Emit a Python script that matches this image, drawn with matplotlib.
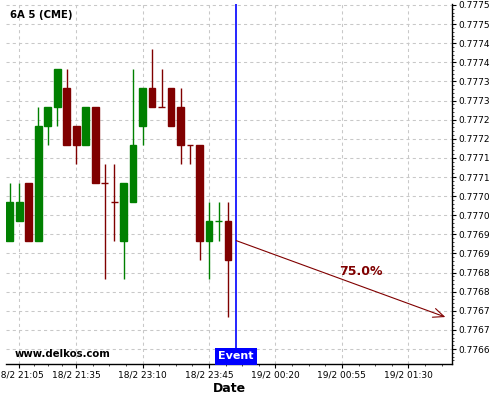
import matplotlib
matplotlib.use('Agg')
import matplotlib.pyplot as plt
import matplotlib.transforms as mtransforms
import numpy as np

# candle data (5 min bars, index based x axis)
opens = [0.77690, 0.77695, 0.77705, 0.77690, 0.77720, 0.77725, 0.77730, 0.77720,
         0.77715, 0.77725, 0.77705, 0.77700, 0.77690, 0.77700, 0.77720, 0.77730,
         0.77725, 0.77730, 0.77725, 0.77715, 0.77715, 0.77690, 0.77695, 0.77695]
highs = [0.77705, 0.77705, 0.77705, 0.77725, 0.77725, 0.77735, 0.77735, 0.77720,
         0.77725, 0.77725, 0.77710, 0.77710, 0.77705, 0.77735, 0.77730, 0.77740,
         0.77735, 0.77730, 0.77730, 0.77715, 0.77715, 0.77700, 0.77700, 0.77700]
lows = [0.77690, 0.77695, 0.77690, 0.77690, 0.77715, 0.77720, 0.77715, 0.77710,
        0.77715, 0.77705, 0.77680, 0.77690, 0.77680, 0.77700, 0.77715, 0.77725,
        0.77725, 0.77720, 0.77710, 0.77710, 0.77685, 0.77680, 0.77690, 0.77670]
closes = [0.77700, 0.77700, 0.77690, 0.77720, 0.77725, 0.77735, 0.77715, 0.77715,
          0.77725, 0.77705, 0.77705, 0.77700, 0.77705, 0.77715, 0.77730, 0.77725,
          0.77725, 0.77720, 0.77715, 0.77715, 0.77690, 0.77695, 0.77695, 0.77685]
bullish = [1, 1, 0, 1, 1, 1, 0, 0, 1, 0, 0, 0, 1, 1, 1, 0, 0, 0, 0, 0, 0, 1, 1, 0]

tick_pos = [1, 7, 14, 21, 28, 35, 42]
tick_labels = ['18/2 21:05', '18/2 21:35', '18/2 23:10', '18/2 23:45',
               '19/2 00:20', '19/2 00:55', '19/2 01:30']

event_x = 23.86
arrow_start = (23.86, 0.77690)
arrow_end = (45.9, 0.77670)
prob_label = '75.0%'
prob_pos = (36.96, 0.77682)

green = '#008000'
red = '#800000'

fig = plt.figure(figsize=(5, 4), dpi=100)
ax = fig.add_axes([6 / 500, 36 / 400, 446 / 500, 360 / 400])

x = np.arange(len(opens))
cols = [green if b else red for b in bullish]
bottoms = [min(o, c) for o, c in zip(opens, closes)]
heights = [abs(c - o) for o, c in zip(opens, closes)]

ax.vlines(x, lows, highs, colors=cols, linewidth=1.0, zorder=2)
ax.bar(x, heights, bottom=bottoms, width=0.7, color=cols, edgecolor=cols,
       linewidth=1.0, zorder=3)

# event line + label
ax.axvline(event_x, color='#0000ff', linewidth=1.2, zorder=4)
trans = mtransforms.blended_transform_factory(ax.transData, ax.transAxes)
ax.text(event_x, 0.021, 'Event', transform=trans, ha='center', va='center',
        color='white', fontsize=8, fontweight='bold', zorder=6,
        bbox=dict(boxstyle='square,pad=0.3', facecolor='#0000ff', edgecolor='none'))

# forecast arrow
ax.annotate('', xy=arrow_end, xytext=arrow_start,
            arrowprops=dict(arrowstyle='->,head_length=0.7,head_width=0.3',
                            color=red, linewidth=0.8, shrinkA=0, shrinkB=0,
                            mutation_scale=11), zorder=5)
ax.text(prob_pos[0], prob_pos[1], prob_label, ha='center', va='center',
        color=red, fontsize=9, fontweight='bold', zorder=5)

# ticks
ytick_start = 0.7766164
yticks = ytick_start + 0.00005 * np.arange(19)
ax.set_yticks(yticks)
ax.set_yticks(ytick_start - 0.00003 + 0.00001 * np.arange(94), minor=True)
ax.yaxis.set_major_formatter(matplotlib.ticker.FormatStrFormatter('%.4f'))
ax.yaxis.tick_right()
ax.yaxis.set_label_position('right')

ax.set_xticks(tick_pos)
ax.set_xticklabels(tick_labels)
edges = [-6] + tick_pos + [49]
minors = []
for a, b in zip(edges[:-1], edges[1:]):
    minors += list(np.linspace(a, b, 5)[1:-1])
ax.set_xticks(minors, minor=True)

# limits last, set_ticks would otherwise widen them
ax.set_xlim(-0.40, 46.6)
ax.set_ylim(0.7765772, 0.7775190)

ax.tick_params(axis='both', which='major', labelsize=6.5, length=3, width=0.8, pad=1.5)
ax.tick_params(axis='both', which='minor', length=1.5, width=0.5)
ax.tick_params(axis='y', which='both', left=False, right=True)

ax.grid(True, which='major', color='#c8c8c8', linestyle=(0, (3, 3)), linewidth=0.75)
ax.set_axisbelow(True)

ax.spines['left'].set_visible(False)
ax.spines['top'].set_visible(False)
ax.spines['right'].set_linewidth(1.0)
ax.spines['bottom'].set_linewidth(1.0)

ax.set_xlabel('Date', fontsize=9, fontweight='bold', labelpad=2)

fig.text(10 / 500, 1 - 15.5 / 400, '6A 5 (CME)', fontsize=7.3, fontweight='bold',
         ha='left', va='center')
fig.text(15 / 500, 1 - 354 / 400, 'www.delkos.com', fontsize=7.3, fontweight='bold',
         ha='left', va='center')

fig.savefig('out.png', dpi=100)
